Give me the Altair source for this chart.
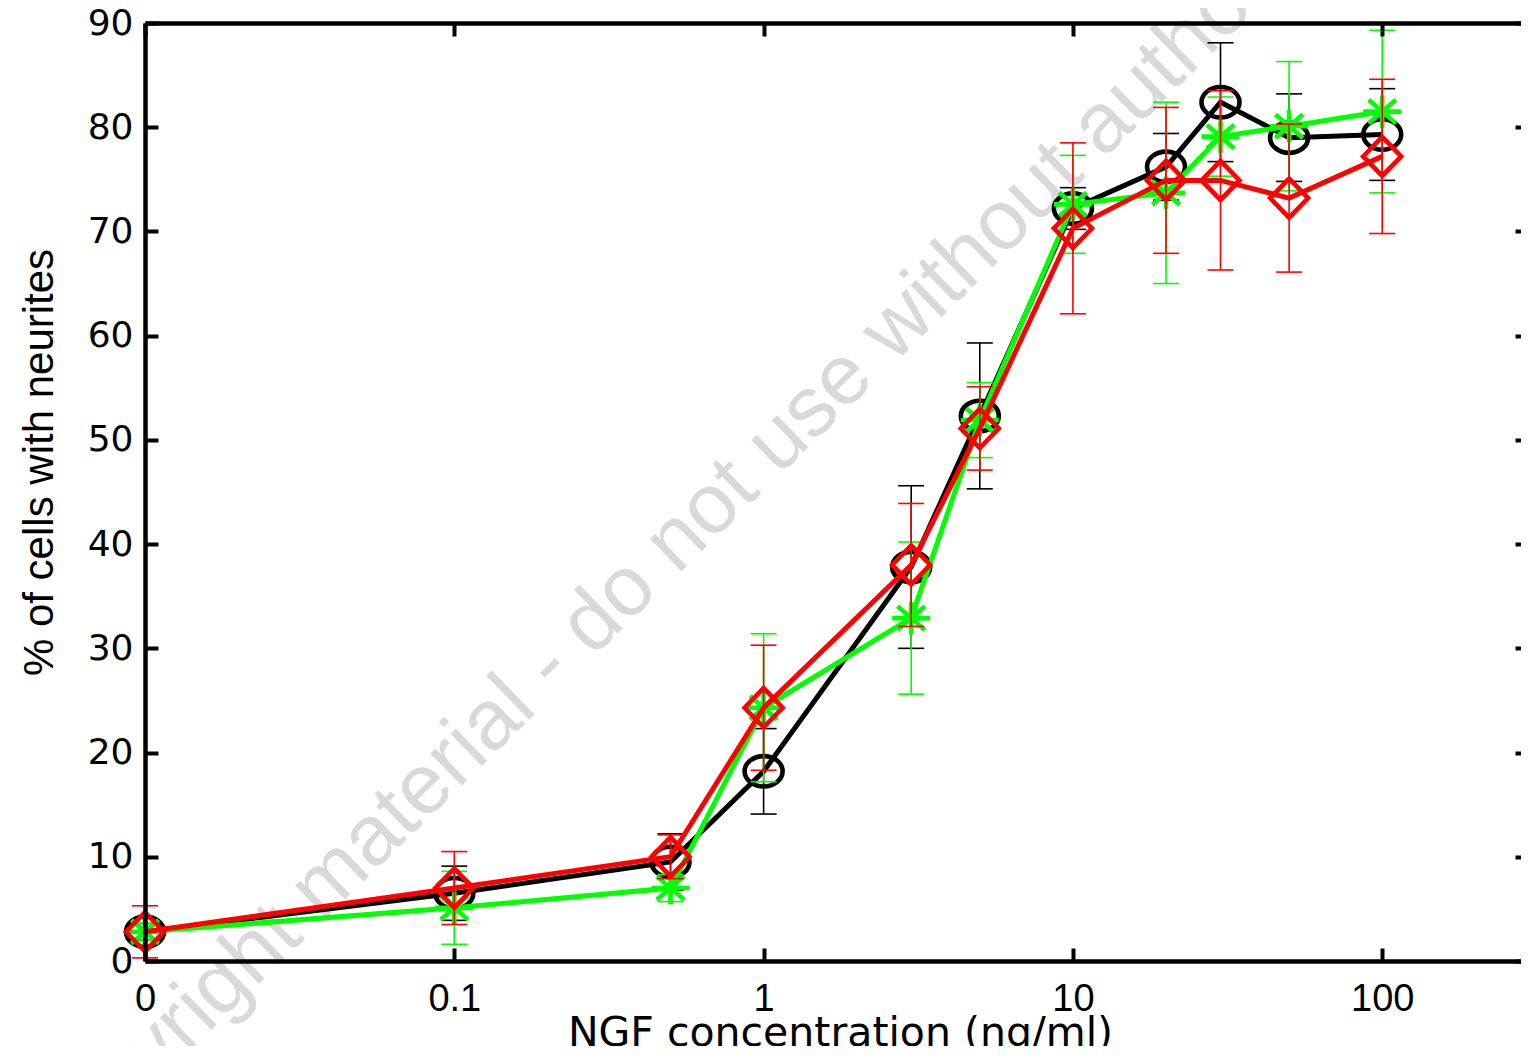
import altair as alt
import pandas as pd

# ---- data ----
conc = [0, 0.1, 0.5, 1, 3, 5, 10, 20, 30, 50, 100]
zero_position = 0.01  # where "0" sits on the log axis

black_mean = [2.8, 6.5, 9.5, 18.2, 37.8, 52.3, 72.2, 76.2, 82.4, 79.0, 79.3]
black_err = [0.8, 2.6, 2.7, 4.1, 7.8, 7.0, 2.0, 3.2, 5.7, 4.2, 4.4]
green_mean = [2.8, 5.1, 7.0, 24.3, 32.9, 51.9, 72.6, 73.7, 79.1, 80.1, 81.5]
green_err = [0.8, 3.5, 1.3, 7.1, 7.3, 3.6, 4.7, 8.7, 3.8, 6.2, 7.8]
red_mean = [2.8, 7.0, 10.0, 24.3, 38.0, 51.1, 70.3, 74.9, 74.9, 73.2, 77.2]
red_err = [2.5, 3.5, 2.1, 6.0, 5.9, 4.0, 8.2, 7.0, 8.6, 7.1, 7.4]

x_tick_values = [0.01, 0.1, 1, 10, 100]
y_tick_values = [0, 10, 20, 30, 40, 50, 60, 70, 80, 90]
x_title = "NGF concentration (ng/ml)"
y_title = "% of cells with neurites"

watermark_text = ["Copyright material - do not use without author's permission"]
watermark_x = [0.00415]
watermark_y = [-20.4]

series = [
    ("black", black_mean, black_err),
    ("green", green_mean, green_err),
    ("red", red_mean, red_err),
]

rows = []
for name, means, errs in series:
    for c, m, e in zip(conc, means, errs):
        rows.append({"series": name, "x": c if c > 0 else zero_position,
                     "y": m, "lo": m - e, "hi": m + e})
df = pd.DataFrame(rows)
wm = pd.DataFrame({"text": watermark_text, "x": watermark_x, "y": watermark_y})

W, H = 1383, 938
xscale = alt.Scale(type="log", domain=[0.01, 296])
yscale = alt.Scale(domain=[0, 90])

colors = {"black": "#000000", "green": "#00ff00", "red": "#ff0000"}
shapes = {
    "black": "M-1,0A1,0.8,0,1,1,1,0A1,0.8,0,1,1,-1,0Z",
    "green": "M-1,0L1,0M0,-0.85L0,0.85M-0.72,-0.62L0.72,0.62M-0.72,0.62L0.72,-0.62",
    "red": "M0,-1.03L1,0L0,1.03L-1,0Z",
}
cap_shape = "M-1,0L1,0"

def xenc(field="x"):
    return alt.X(f"{field}:Q", scale=xscale, axis=None)

def yenc(field="y"):
    return alt.Y(f"{field}:Q", scale=yscale, axis=None)

layers = []

# watermark
layers.append(
    alt.Chart(wm).mark_text(
        align="left", baseline="middle", angle=315.7, fontSize=85,
        font="Liberation Sans", color="#d9d9d9"
    ).encode(x=xenc(), y=yenc(), text="text:N")
)

for name, _, _ in series:
    c = colors[name]
    base = alt.Chart(df).transform_filter(alt.datum.series == name)
    layers.append(base.mark_rule(color=c, strokeWidth=1.6).encode(
        x=xenc(), y=yenc("lo"), y2="hi:Q"))
    layers.append(base.mark_point(shape=cap_shape, filled=False, color=c,
                                  strokeWidth=1.6, size=26 * 26, opacity=1).encode(
        x=xenc(), y=yenc("lo")))
    layers.append(base.mark_point(shape=cap_shape, filled=False, color=c,
                                  strokeWidth=1.6, size=26 * 26, opacity=1).encode(
        x=xenc(), y=yenc("hi")))
    layers.append(base.mark_line(color=c, strokeWidth=5).encode(
        x=xenc(), y=yenc()))
    layers.append(base.mark_point(shape=shapes[name], filled=False, color=c,
                                  strokeWidth=4.6, size=38 * 38, opacity=1).encode(
        x=xenc(), y=yenc()))

label_expr = "datum.value < 0.05 ? '0' : format(datum.value, '~g')"
ax_base = alt.Chart(df).mark_point(opacity=0)

common = dict(grid=False, domainColor="#000000", tickColor="#000000",
              zindex=1)

# main axes: frame left + bottom with labels and titles
layers.append(ax_base.encode(
    x=alt.X("x:Q", scale=xscale, title=x_title, axis=alt.Axis(
        orient="bottom", values=x_tick_values, labelExpr=label_expr,
        ticks=False, domainWidth=4.5, labelFont="Liberation Sans",
        labelFontSize=38, labelColor="#000000", labelPadding=19,
        labelFlush=False, labelOverlap=False,
        titleFont="DejaVu Sans", titleFontSize=41, titleFontWeight="normal",
        titleColor="#000000", titleX=695, titleY=84,
        titleBaseline="alphabetic", titleAlign="center", **common)),
    y=alt.Y("y:Q", scale=yscale, title=y_title, axis=alt.Axis(
        orient="left", values=y_tick_values, ticks=False, domainWidth=4.5,
        labelFont="DejaVu Sans", labelFontSize=36, labelColor="#000000",
        labelPadding=12, labelFlush=False, labelOverlap=False,
        titleFont="Liberation Sans", titleFontSize=42, titleFontWeight="normal",
        titleColor="#000000", titleX=-93, titleY=439, titleAngle=270,
        titleBaseline="alphabetic", titleAlign="center", **common)),
))

# inward ticks on bottom and left edges
layers.append(ax_base.encode(
    x=alt.X("x:Q", scale=xscale, title=None, axis=alt.Axis(
        orient="top", offset=-H, values=x_tick_values, labels=False,
        domain=False, tickSize=13, tickWidth=4, **common)),
    y=alt.Y("y:Q", scale=yscale, title=None, axis=alt.Axis(
        orient="right", offset=-W, values=y_tick_values, labels=False,
        domain=False, tickSize=13, tickWidth=4, **common)),
))

# top frame with inward ticks, inward ticks on right edge
layers.append(ax_base.encode(
    x=alt.X("x:Q", scale=xscale, title=None, axis=alt.Axis(
        orient="bottom", offset=-H, values=x_tick_values, labels=False,
        domain=True, domainWidth=4.5, tickSize=13, tickWidth=4, **common)),
    y=alt.Y("y:Q", scale=yscale, title=None, axis=alt.Axis(
        orient="left", offset=-W, values=y_tick_values, labels=False,
        domain=False, tickSize=13, tickWidth=4, **common)),
))

chart = alt.layer(*layers).resolve_axis(
    x="independent", y="independent"
).properties(
    width=W, height=H,
    autosize=alt.AutoSizeParams(type="none"),
    padding={"left": 137, "top": 15, "right": -7, "bottom": 85},
    background="#ffffff",
).configure_view(strokeOpacity=0)

chart.save("out.html", embed_options={"renderer": "svg", "actions": False})
